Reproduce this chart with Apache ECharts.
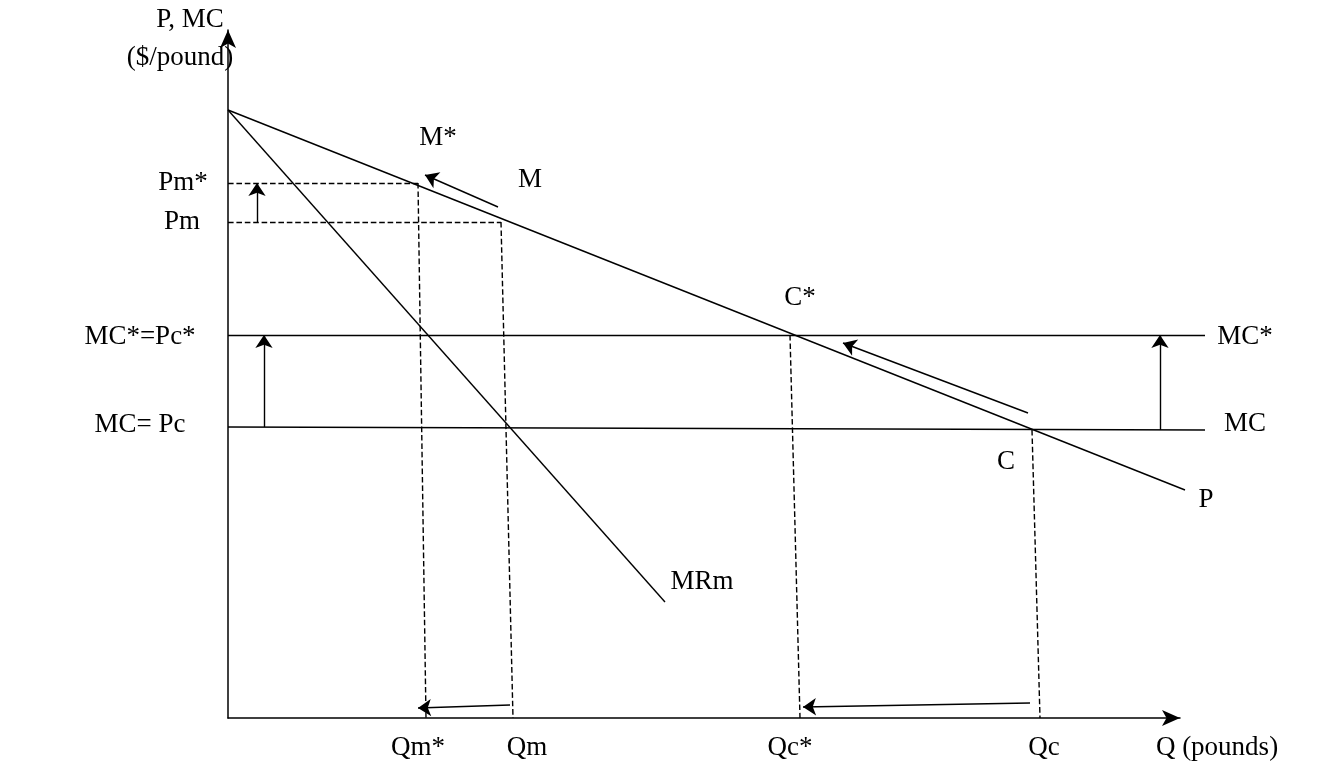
<!DOCTYPE html><html><head><meta charset="utf-8"><script src="https://cdn.jsdelivr.net/npm/echarts@6/dist/echarts.min.js"></script>
<style>html,body{margin:0;background:#fff}#c{width:1323px;height:768px}</style></head><body><div id="c"></div><script>
// coordinates in arbitrary quantity/price units
const solidLines = {
  P: [[0,608],[957,228]],
  MRm: [[0,608],[437,116]],
  MCstar: [[0,383],[977,383]],
  MC: [[0,291],[977,288]]
};
const dashedLines = [
  [[0,535],[190,535]], [[190,535],[198,0]],
  [[0,496],[273,496]], [[273,496],[285,0]],
  [[562,383],[572,0]], [[804,288],[812,0]]
];
const arrows = [
  [[29,496],[29,535]], [[36,291],[36,383]], [[932,288],[932,383]],
  [[270,511],[197,543]], [[800,305],[615,375]],
  [[282,13],[190,10]], [[802,15],[575,11]]
];
const texts = [
  ["P, MC",190,20],["($/pound)",180,58],["M*",438,138],["M",530,180],
  ["Pm*",183,183],["Pm",182,222],["C*",800,298],["MC*=Pc*",140,337],["MC= Pc",140,425],
  ["MC*",1245,337],["MC",1245,424],["C",1006,462],["P",1206,500],["MRm",702,582],
  ["Qm*",418,748],["Qm",527,748],["Qc*",790,748],["Qc",1044,748],["Q (pounds)",1217,748]
];
const ch = echarts.init(document.getElementById('c'));
const ln = (d,type,arrow)=>({type:'lines',coordinateSystem:'cartesian2d',polyline:false,silent:true,
  symbol:arrow?['none','arrow']:'none',symbolSize:arrow?13:0,
  lineStyle:{color:'#000',width:1.4,type:type,opacity:1},data:d.map(c=>({coords:c}))});
ch.setOption({
  animation:false,
  grid:{left:228,right:143,top:30,bottom:50},
  xAxis:{type:'value',min:0,max:952,axisLine:{lineStyle:{color:'#000',width:1.5},symbol:['none','arrow'],symbolSize:[12,18]},axisTick:{show:false},axisLabel:{show:false},splitLine:{show:false}},
  yAxis:{type:'value',min:0,max:688,axisLine:{lineStyle:{color:'#000',width:1.5},symbol:['none','arrow'],symbolSize:[12,18]},axisTick:{show:false},axisLabel:{show:false},splitLine:{show:false}},
  series:[ln(Object.values(solidLines),'solid',false),ln(dashedLines,'dashed',false),ln(arrows,'solid',true)].map(s=>Object.assign(s,{clip:false})),
  graphic:texts.map(t=>({type:'text',x:t[1],y:t[2],style:{text:t[0],fill:'#000',font:'27px "Liberation Serif"',align:'center',verticalAlign:'middle'}}))
});
</script></body></html>
